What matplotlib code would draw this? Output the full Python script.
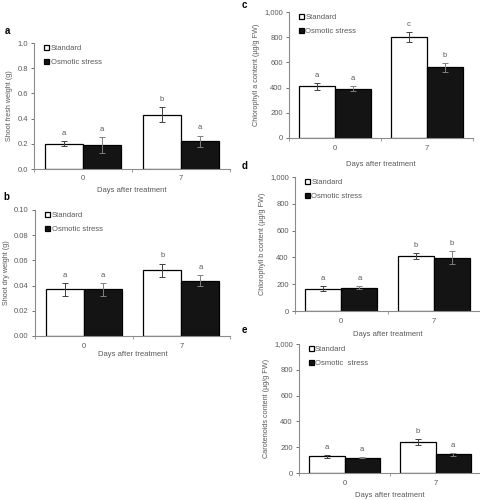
import matplotlib
matplotlib.use("Agg")
import matplotlib.pyplot as plt
import numpy as np
from matplotlib.ticker import FuncFormatter

plt.rcParams['font.family'] = ['Liberation Sans', 'DejaVu Sans']

days = ["0", "7"]
series = ["Standard", "Osmotic stress"]

a_std = [0.20, 0.43]; a_std_err = [0.02, 0.06]
a_osm = [0.19, 0.22]; a_osm_err = [0.065, 0.045]
a_let_std = ["a", "b"]; a_let_osm = ["a", "a"]

b_std = [0.037, 0.052]; b_std_err = [0.005, 0.0055]
b_osm = [0.037, 0.044]; b_osm_err = [0.005, 0.0045]
b_let_std = ["a", "b"]; b_let_osm = ["a", "a"]

c_std = [410, 800]; c_std_err = [28, 40]
c_osm = [390, 560]; c_osm_err = [20, 35]
c_let_std = ["a", "c"]; c_let_osm = ["a", "b"]

d_std = [165, 410]; d_std_err = [18, 20]
d_osm = [175, 398]; d_osm_err = [10, 50]
d_let_std = ["a", "b"]; d_let_osm = ["a", "b"]

e_std = [130, 240]; e_std_err = [10, 22]
e_osm = [120, 145]; e_osm_err = [6, 10]
e_let_std = ["a", "b"]; e_let_osm = ["a", "a"]

GRAY = "#595959"
W, H = 480, 500
fig = plt.figure(figsize=(4.8, 5.0), dpi=100)

def rect(l, t, r, b):
    return [l / W, 1 - b / H, (r - l) / W, (b - t) / H]

panels = [
    ("a", rect(34, 43, 230, 169), a_std, a_std_err, a_osm, a_osm_err, a_let_std, a_let_osm,
     "Shoot fresh weight (g)", (0, 1.0), 0.2, lambda v, p: f"{v:.1f}", ["Standard", "Osmotic stress"], (5, 31), 4, 4),
    ("b", rect(35, 210, 230, 336), b_std, b_std_err, b_osm, b_osm_err, b_let_std, b_let_osm,
     "Shoot dry weight (g)", (0, 0.10), 0.02, lambda v, p: f"{v:.2f}", ["Standard", "Osmotic stress"], (3, 197), 5, 0.5),
    ("c", rect(289, 12, 473, 138), c_std, c_std_err, c_osm, c_osm_err, c_let_std, c_let_osm,
     "Chlorophyll a content (µg/g FW)", (0, 1000), 200, lambda v, p: f"{int(v):,}", ["Standard", "Osmotic stress"], (242, 5), 5, 6.5),
    ("d", rect(295, 177, 480, 311), d_std, d_std_err, d_osm, d_osm_err, d_let_std, d_let_osm,
     "Chlorophyll b content (µg/g FW)", (0, 1000), 200, lambda v, p: f"{int(v):,}", ["Standard", "Osmotic stress"], (242, 166), 5, 4),
    ("e", rect(299, 344, 481, 473), e_std, e_std_err, e_osm, e_osm_err, e_let_std, e_let_osm,
     "Carotenoids content (µg/g FW)", (0, 1000), 200, lambda v, p: f"{int(v):,}", ["Standard", "Osmotic  stress"], (242, 330), 5, 3.5),
]

bw = 0.39
FS = 5.5
for (lab, pos, s, se, o, oe, ls, lo, ylab, ylim, step, fmt, names, lpos, tpad, lpad) in panels:
    ax = fig.add_axes(pos)
    x = np.arange(len(days))
    ax.bar(x - bw / 2, s, bw, color="white", edgecolor="black", linewidth=0.9, label=names[0])
    ax.bar(x + bw / 2, o, bw, color="#141414", edgecolor="black", linewidth=0.9, label=names[1])
    ax.errorbar(x - bw / 2, s, yerr=se, fmt="none", ecolor="#404040", elinewidth=0.7, capsize=2, capthick=0.7)
    ax.errorbar(x + bw / 2, o, yerr=oe, fmt="none", ecolor="#808080", elinewidth=0.7, capsize=2, capthick=0.7)
    for xi, v, e, t in zip(x - bw / 2, s, se, ls):
        ax.annotate(t, (xi, v + e), xytext=(0, 3), textcoords="offset points", ha="center", va="bottom",
                    fontsize=FS, color=GRAY)
    for xi, v, e, t in zip(x + bw / 2, o, oe, lo):
        ax.annotate(t, (xi, v + e), xytext=(0, 3), textcoords="offset points", ha="center", va="bottom",
                    fontsize=FS, color=GRAY)
    ax.set_xlim(-0.5, 1.5)
    ax.set_ylim(*ylim)
    ax.set_yticks(np.arange(ylim[0], ylim[1] + step / 2, step))
    ax.yaxis.set_major_formatter(FuncFormatter(fmt))
    ax.set_xticks(x)
    ax.set_xticklabels(days)
    ax.set_xticks([-0.5, 0.5, 1.5], minor=True)
    ax.tick_params(axis="x", which="major", length=0, labelsize=FS, labelcolor=GRAY, pad=tpad)
    ax.tick_params(axis="x", which="minor", length=2.5, width=0.6, color="#8c8c8c")
    ax.tick_params(axis="y", length=2.5, width=0.6, color=GRAY, labelsize=FS, labelcolor=GRAY, pad=2)
    for sp in ["top", "right"]:
        ax.spines[sp].set_visible(False)
    for sp in ["left", "bottom"]:
        ax.spines[sp].set_color("#8c8c8c")
        ax.spines[sp].set_linewidth(0.8)
    ax.set_ylabel(ylab, fontsize=5.2, color=GRAY, labelpad=3)
    ax.set_xlabel("Days after treatment", fontsize=FS, color=GRAY, labelpad=lpad)
    leg = ax.legend(loc="upper left", bbox_to_anchor=(0.03, 1.02), frameon=False, fontsize=FS,
                    handlelength=0.6, handleheight=0.6, handletextpad=0.2, labelspacing=0.9,
                    borderaxespad=0.2)
    for t in leg.get_texts():
        t.set_color(GRAY)
    fig.text(lpos[0] / W, 1 - lpos[1] / H, lab, fontsize=7, fontweight="bold", ha="left", va="center")

fig.savefig("out.png", dpi=100)
